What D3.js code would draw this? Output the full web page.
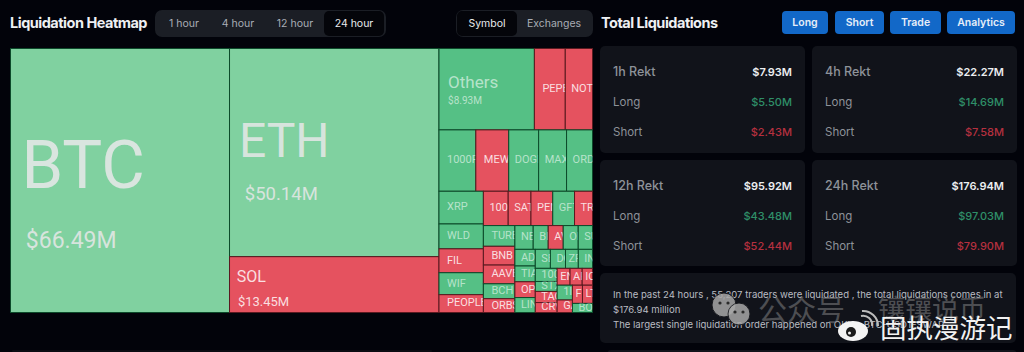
<!DOCTYPE html>
<html><head><meta charset="utf-8">
<script src="https://cdn.jsdelivr.net/npm/d3@7/dist/d3.min.js"></script>
<style>html,body{margin:0;padding:0;background:#02030a;overflow:hidden}svg{display:block}text{font-family:Inter,Roboto,sans-serif}</style>
</head><body><svg id="c" width="1024" height="352"></svg>
<script>
const tickers=["BTC","ETH","SOL","Others","PEPE","NOT","1000PEPE","MEW","DOGE","MAX","ORDI","XRP","WLD","FIL","WIF","PEOPLE","1000BONK","SATS","PENDLE","GFT","TRX","TURBO","BNB","AAVE","BCH","ORBS","NEAR","BIGTIME","AVAX","ONDO","SUI","ADA","TIA","OP","LINK","SEI","DOT","ZRO","INJ","1000FLOKI","STX","TAO","CRV","ENA","ARB","IO","1INCH","GALA","FTM","LTC","BOME"];
const values=[66.49,50.14,13.45,8.93,2.89,2.55,2.6,2.32,2.11,1.97,1.83,1.67,1.27,1.22,1.12,.91,.98,.9,.86,.86,.71,.75,.68,.68,.54,.5,.5,.41,.41,.41,.39,.39,.37,.37,.35,.33,.33,.28,.31,.33,.25,.28,.25,.25,.235,.2,.26,.22,.21,.21,.21];
const shortSide=["SOL","PEPE","NOT","MEW","FIL","PEOPLE","1000BONK","SATS","PENDLE","TRX","BNB","AAVE","ORBS","AVAX","OP","TAO","CRV","ENA","ARB","IO","GALA","FTM","LTC"];
const nesting=["h","BTC",["v","ETH","SOL"],["v",["h","Others","PEPE","NOT"],["h","1000PEPE","MEW","DOGE","MAX","ORDI"],
 ["h",["v","XRP","WLD","FIL","WIF","PEOPLE"],["v",["h","1000BONK","SATS","PENDLE","GFT","TRX"],
  ["h",["v","TURBO","BNB","AAVE","BCH","ORBS"],["v",["h","NEAR","BIGTIME","AVAX","ONDO","SUI"],
   ["h",["v","ADA","TIA","OP","LINK"],["v",["h","SEI","DOT","ZRO","INJ"],
    ["h",["v","1000FLOKI","STX","TAO","CRV"],["v",["h","ENA","ARB","IO"],["h",["v","1INCH","GALA"],["v",["h","FTM","LTC"],"BOME"]]]]]]]]]]]];
const moneyLabels={BTC:"$66.49M",ETH:"$50.14M",SOL:"$13.45M",Others:"$8.93M"};
const tabs=["1 hour","4 hour","12 hour","24 hour"];
const modes=["Symbol","Exchanges"];
const buttons=["Long","Short","Trade","Analytics"];
const cardNames=["1h Rekt","4h Rekt","12h Rekt","24h Rekt"];
const cardTotals=["$7.93M","$22.27M","$95.92M","$176.94M"];
const cardLongs=["$5.50M","$14.69M","$43.48M","$97.03M"];
const cardShorts=["$2.43M","$7.58M","$52.44M","$79.90M"];
const note=["In the past 24 hours , 55,207 traders were liquidated , the total liquidations comes in at","$176.94 million","The largest single liquidation order happened on OKX - BTC-USDT-SWAP"];

const svg=d3.select("#c");
const T=(s,x,y,size,fill,o={})=>svg.append("text").attr("x",x).attr("y",y).attr("font-size",size).attr("fill",fill)
  .attr("text-anchor",o.a||"start").attr("font-weight",o.w||400).attr("letter-spacing",o.ls||null).style("font-family",o.f||null).attr("opacity",o.op||1).text(s);
const R=(x,y,w,h,r,fill,o=1)=>svg.append("rect").attr("x",x).attr("y",y).attr("width",w).attr("height",h).attr("rx",r).attr("fill",fill).attr("opacity",o);

// header
T("Liquidation Heatmap",10,28,14.5,"#eef0f3",{w:700,ls:"-0.5"});
R(155,10,231,27,7,"#1b1e25");
R(324,11,60,25,5,"#04050a");
const tabX=[184,238,295,354];
tabs.forEach((t,i)=>T(t,tabX[i],27,10.5,i==3?"#e8eaed":"#a9adb5",{a:"middle"}));
R(456,10,137,27,7,"#1b1e25");
R(457,11,60,25,5,"#04050a");
const modeX=[487,554];
modes.forEach((t,i)=>T(t,modeX[i],27,10.5,i==0?"#e8eaed":"#a9adb5",{a:"middle"}));
T("Total Liquidations",601,28,14.5,"#eef0f3",{w:700,ls:"-0.5"});
const btnX=[782,835,890,947],btnW=[46,49,51,68];
buttons.forEach((b,i)=>{R(btnX[i],11,btnW[i],23,4,"#1268c8");T(b,btnX[i]+btnW[i]/2,26,10.5,"#e6eef8",{a:"middle",w:600});});

// treemap
const info=new Map(tickers.map((t,i)=>[t,{name:t,value:values[i]}]));
const build=n=>typeof n==="string"?info.get(n):{dir:n[0],children:n.slice(1).map(build)};
const root=d3.hierarchy(build(nesting)).sum(d=>d.value||0);
d3.treemap().size([582,264]).tile((n,a,b,c,d)=>(n.data.dir==="h"?d3.treemapDice:d3.treemapSlice)(n,a,b,c,d))(root);
const map=svg.append("g").attr("transform","translate(10.5,48.5)");
const isShort=new Set(shortSide);
const big={BTC:{s:67,x:.05,y:.53,vs:23,vx:.07,vy:.755},ETH:{s:48,x:.045,y:.52,vs:18.5,vx:.073,vy:.73},SOL:{s:16,x:.035,y:.45,vs:13,vx:.04,vy:.88},Others:{s:17,x:.095,y:.49,vs:10,vx:.095,vy:.68}};
const leaf=map.selectAll("g").data(root.leaves()).join("g").attr("transform",d=>`translate(${d.x0},${d.y0})`);
leaf.append("clipPath").attr("id",(d,i)=>"k"+i).append("rect").attr("width",d=>d.x1-d.x0).attr("height",d=>d.y1-d.y0);
leaf.append("rect").attr("width",d=>d.x1-d.x0).attr("height",d=>d.y1-d.y0)
  .attr("fill",d=>isShort.has(d.data.name)?"#e5525f":d.value>20?"#80d1a0":"#55c085")
  .attr("stroke",d=>isShort.has(d.data.name)?"#5a1a20":"#0c4a2a").attr("stroke-width",1);
leaf.each(function(d,i){
  const g=d3.select(this).append("g").attr("clip-path",`url(#k${i})`),w=d.x1-d.x0,h=d.y1-d.y0,n=d.data.name,b=big[n];
  const col=isShort.has(n)?"rgba(255,255,255,.82)":n==="BTC"||n==="ETH"?"rgba(225,230,228,.92)":"rgba(255,255,255,.58)";
  const t=(s,x,y,z,a)=>g.append("text").attr("x",x).attr("y",y).attr("font-size",z).attr("fill",col).style("font-family","Roboto").attr("dominant-baseline",a||null).text(s);
  if(b){t(n,b.x*w,b.y*h,b.s);t(moneyLabels[n],b.vx*w,b.vy*h,b.vs);}
  else{
    const pad=w<13?3:w<30?6:8;
    const el=t(n,pad,h/2,h>9?11:8.5,"middle");
    let s=n;
    // only as much of the ticker as starts inside its cell is written
    while(s.length>1&&el.text(s.slice(0,-1)).node().getComputedTextLength()>w-pad-1)s=s.slice(0,-1);
    el.text(s);
  }
});

// cards
const cardX=[600,812],cardY=[46,160];
const green="#2f8f68",red="#b5303f";
cardNames.forEach((c,i)=>{
  const x=cardX[i%2],y=cardY[i>>1],r=x+192;
  R(x,y,205,i>>1?106:107,5,"#11131a");
  T(c,x+13,y+30,12.5,"#8e9299",{w:500});
  T(cardTotals[i],r,y+30,11,"#eceef0",{a:"end",w:600});
  T("Long",x+13,y+60,11.5,"#8e9299");
  T(cardLongs[i],r,y+60,11,green,{a:"end",w:500});
  T("Short",x+13,y+90,11.5,"#8e9299");
  T(cardShorts[i],r,y+90,11,red,{a:"end",w:500});
});
R(600,273,416,70,5,"#11131a");
note.forEach((s,i)=>T(s,613,298+i*15,9.55,"#b9bcc2"));
R(608,350,408,4,3,"#11131a");
R(12,350,420,2,1,"#0b0c12");

// watermarks
const wm=svg.append("g");
[[724,305,12],[739,314,11]].forEach(a=>{
  wm.append("circle").attr("cx",a[0]).attr("cy",a[1]).attr("r",a[2]).attr("fill","#a8a8a8").attr("stroke","#1a1b20").attr("opacity",.85);
  [-4,4].forEach(k=>wm.append("circle").attr("cx",a[0]+k).attr("cy",a[1]-2).attr("r",1.6).attr("fill","#2a2a2a"));
});
T("公众号",758,321,29,"#8a8a8a",{f:"'Noto Sans CJK SC'",op:.5});
T("镶镶说币",878,319,27,"#8a8a8a",{f:"'Noto Sans CJK SC'",op:.5});
wm.append("ellipse").attr("cx",853).attr("cy",331).attr("rx",15).attr("ry",10).attr("fill","#f4f4f4");
wm.append("circle").attr("cx",851).attr("cy",332).attr("r",5).attr("fill","#1a1a1a");
wm.append("circle").attr("cx",849.5).attr("cy",333).attr("r",1.5).attr("fill","#f4f4f4");
["M861 316a9 9 0 0 1 11 10","M862 311a15 15 0 0 1 16 15"].forEach(p=>wm.append("path").attr("d",p).attr("fill","none").attr("stroke",p.length<18?"#f4f4f4":"#bcbcbc").attr("stroke-width",2));
T("固执漫游记",880,338,26.5,"#f2f2f2",{f:"'Noto Sans CJK SC'"});
</script></body></html>
